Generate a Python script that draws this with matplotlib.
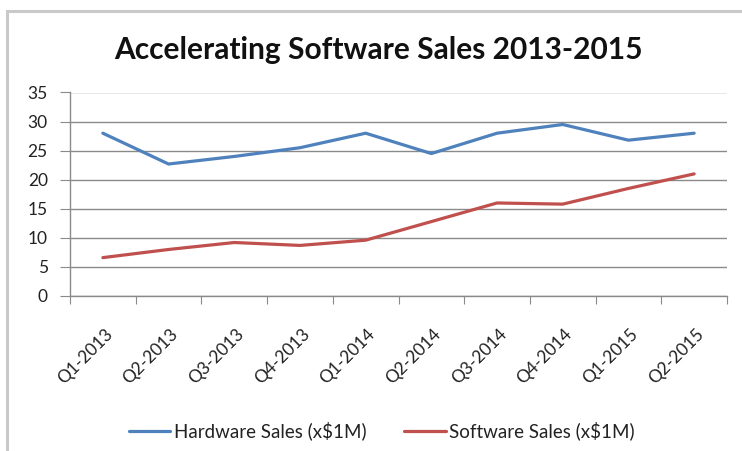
import matplotlib
matplotlib.use("Agg")
import matplotlib.pyplot as plt
from matplotlib.patches import Rectangle
from matplotlib.transforms import ScaledTranslation
import numpy as np

plt.rcParams['font.family'] = ['Lato', 'DejaVu Sans']

categories = ["Q1-2013", "Q2-2013", "Q3-2013", "Q4-2013", "Q1-2014",
              "Q2-2014", "Q3-2014", "Q4-2014", "Q1-2015", "Q2-2015"]
hardware = [28.0, 22.7, 24.0, 25.5, 28.0, 24.5, 28.0, 29.5, 26.8, 28.0]
software = [6.6, 8.0, 9.2, 8.7, 9.6, 12.8, 16.0, 15.8, 18.5, 21.0]
yticks = [0, 5, 10, 15, 20, 25, 30, 35]
title = "Accelerating Software Sales 2013-2015"
labels = ["Hardware Sales (x$1M)", "Software Sales (x$1M)"]

W, H = 742, 451
fig = plt.figure(figsize=(W / 100, H / 100), dpi=100)
fig.patch.set_facecolor("white")

# chart border
fig.add_artist(Rectangle((7 / W, -0.05), 1.2, 1 - 11 / H + 0.05, transform=fig.transFigure,
                         fill=False, edgecolor="#c9c9c9", linewidth=2.2))

ax = fig.add_axes([70 / W, 1 - 296 / H, (727 - 70) / W, (296 - 92.5) / H])
x = np.arange(len(categories))
ax.plot(x, hardware, color="#4F81BD", linewidth=2.3, label=labels[0], solid_capstyle="round")
ax.plot(x, software, color="#C0504D", linewidth=2.3, label=labels[1], solid_capstyle="round")

ax.set_xlim(-0.5, len(categories) - 0.5)
ax.set_ylim(0, 35)
ax.set_yticks(yticks)
ax.set_yticklabels([str(v) for v in yticks])
ax.yaxis.grid(True, color="#8a8a8a", linewidth=1.0)
ax.set_axisbelow(True)

ax.set_xticks(np.arange(len(categories) + 1) - 0.5)
ax.set_xticklabels([])
off = ScaledTranslation(7 / 100, -35 / 100, fig.dpi_scale_trans)
trans = ax.get_xaxis_transform() + off
for xi, cat in zip(x, categories):
    ax.text(xi, 0, cat, transform=trans, rotation=45, ha="right", va="center",
            rotation_mode="anchor", fontsize=12.5, color="#222222", clip_on=False)
ax.tick_params(axis="x", which="major", length=6, color="#8a8a8a", direction="out")
ax.tick_params(axis="y", length=7, color="#8a8a8a", labelsize=12.5, labelcolor="#222222", pad=9)

for s in ["top", "right"]:
    ax.spines[s].set_visible(False)
for s in ["left", "bottom"]:
    ax.spines[s].set_color("#8a8a8a")
    ax.spines[s].set_linewidth(1.0)

fig.text(378 / W, 1 - 50 / H, title, ha="center", va="center",
         fontsize=21.5, fontweight="bold", color="#111111")

fig.legend(loc="center", bbox_to_anchor=(382 / W, 1 - 431 / H), ncol=2, frameon=False,
           fontsize=13.5, handlelength=2.2, handletextpad=0.2, columnspacing=2.0,
           labelcolor="#222222")

fig.savefig("out.png", dpi=100, facecolor="white")
